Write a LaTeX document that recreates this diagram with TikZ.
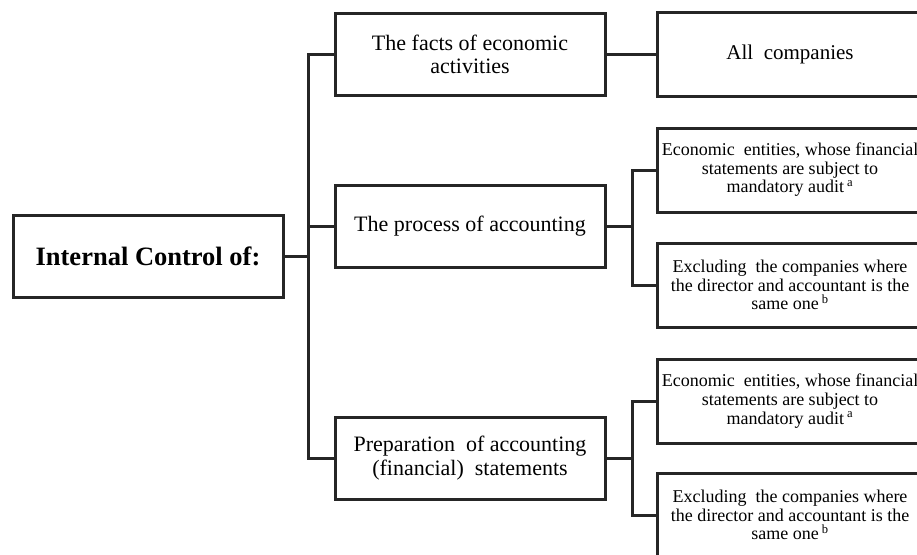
\documentclass[tikz,border=0pt]{standalone}
\usepackage{fontspec}
\setmainfont{Liberation Serif}
\usetikzlibrary{positioning,calc}

\begin{document}
\begin{tikzpicture}[x=1pt, y=-1pt, line width=3pt,
    box/.style={rectangle, draw=black!85, align=center, minimum width=270pt, minimum height=82pt, inner sep=2pt, font=\fontsize{22}{23.5}\selectfont},
    leaf/.style={rectangle, draw=black!85, align=center, minimum width=266pt, minimum height=84pt, inner sep=2pt, font=\fontsize{18}{18.6}\selectfont}]
    \useasboundingbox (0,0) rectangle (917,554);
    \fill[white] (0,0) rectangle (917,554);
    \clip (0,0) rectangle (917,554);

    \node[box, font=\bfseries\fontsize{26.5}{28}\selectfont] (ctrl) at (148,256) {Internal Control of:};
    \node[box] (facts) at (470,54.5) {The facts of economic\\activities};
    \node[box] (process) at (470,226.5) {The process of accounting};
    \node[box] (prep) at (470,458) {Preparation\ \ of accounting\\(financial)\ \ statements};

    \node[leaf, font=\fontsize{21}{22}\selectfont] (all) at (790,54.5) {All\ \ companies};
    \node[leaf] (auditA) at (790,170) {Economic\ \ entities, whose financial\\statements are subject to\\mandatory audit\,\textsuperscript{a}};
    \node[leaf] (exclA) at (790,285) {Excluding\ \ the companies where\\the director and accountant is the\\same one\,\textsuperscript{b}};
    \node[leaf] (auditB) at (790,401) {Economic\ \ entities, whose financial\\statements are subject to\\mandatory audit\,\textsuperscript{a}};
    \node[leaf] (exclB) at (790,515) {Excluding\ \ the companies where\\the director and accountant is the\\same one\,\textsuperscript{b}};

    % forks
    \coordinate (trunk) at (308,256);
    \coordinate (forkA) at (632,226.5);
    \coordinate (forkB) at (632,458);

    \draw[black!85] (ctrl.east) -- (trunk);
    \draw[black!85] (facts.west) -| (trunk) |- (prep.west);
    \draw[black!85] (process.west) -- (process.west -| trunk);
    \draw[black!85] (facts.east) -- (all.west);

    \draw[black!85] (process.east) -- (forkA);
    \draw[black!85] (auditA.west) -| (forkA) |- (exclA.west);
    \draw[black!85] (prep.east) -- (forkB);
    \draw[black!85] (auditB.west) -| (forkB) |- (exclB.west);
\end{tikzpicture}
\end{document}
